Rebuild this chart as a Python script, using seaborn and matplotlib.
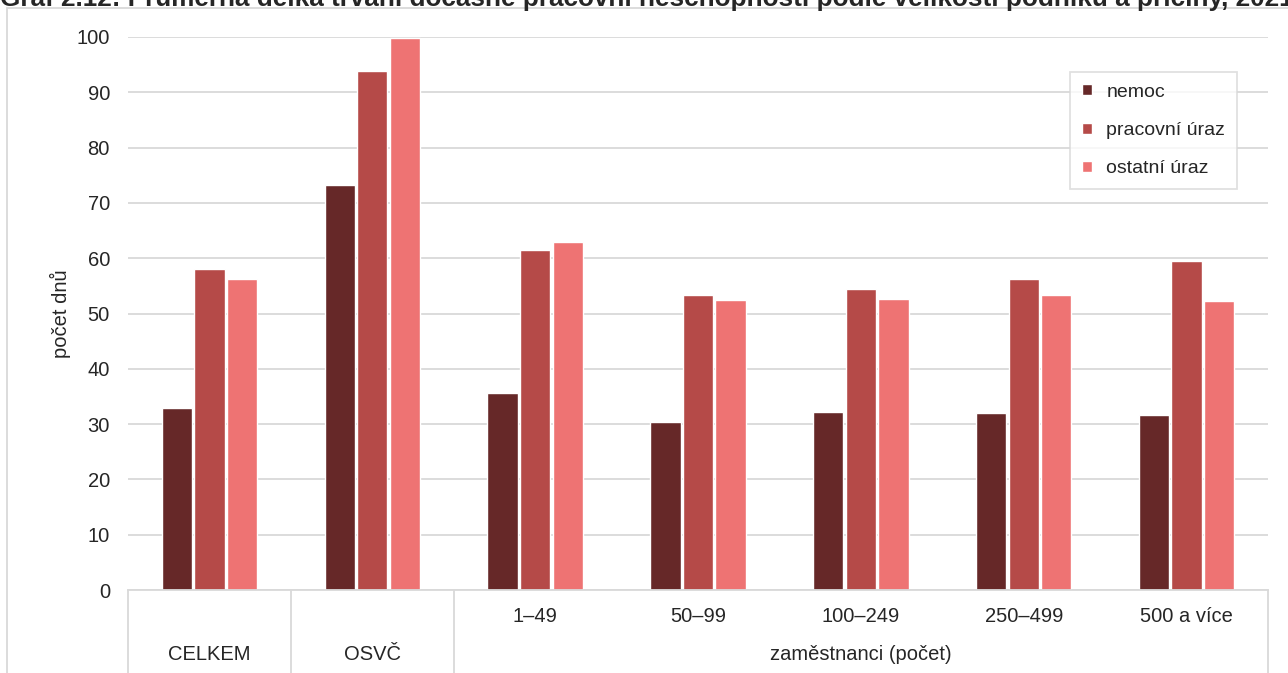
import pandas as pd
import matplotlib
matplotlib.use("Agg")
import matplotlib.pyplot as plt
from matplotlib.patches import Rectangle
import seaborn as sns

# data
categories = ["CELKEM", "OSVČ", "1–49", "50–99", "100–249", "250–499", "500 a více"]
nemoc = [32.9, 73.3, 35.6, 30.4, 32.2, 32.0, 31.6]
pracovni_uraz = [58.0, 93.9, 61.5, 53.3, 54.5, 56.2, 59.5]
ostatni_uraz = [56.2, 99.8, 62.9, 52.5, 52.6, 53.3, 52.2]
series_names = ["nemoc", "pracovní úraz", "ostatní úraz"]
tick_labels = ["", "", "1–49", "50–99", "100–249", "250–499", "500 a více"]
group_labels = ["CELKEM", "OSVČ", "zaměstnanci (počet)"]

colors = ["#662828", "#B54A48", "#EE7373"]
grid_col = "#D9D9D9"
fs = 14.5

rows = []
for name, vals in zip(series_names, [nemoc, pracovni_uraz, ostatni_uraz]):
    for c, v in zip(categories, vals):
        rows.append({"kategorie": c, "pricina": name, "dny": v})
df = pd.DataFrame(rows)

sns.set_style("white")
plt.rcParams["font.family"] = ["Liberation Sans", "DejaVu Sans"]

fig = plt.figure(figsize=(12.88, 6.73), dpi=100)
ax = fig.add_axes([128 / 1288, 1 - 590 / 673, 1140 / 1288, 553 / 673])

sns.barplot(data=df, x="kategorie", y="dny", hue="pricina", order=categories,
            hue_order=series_names, palette=colors, width=0.6, gap=0.07,
            saturation=1, ax=ax, errorbar=None)

ax.set_ylim(0, 100)
ax.set_xlim(-0.5, len(categories) - 0.5)
ax.set_yticks(range(0, 101, 10))
ax.yaxis.grid(True, color=grid_col, linewidth=1.3)
ax.set_axisbelow(True)
for s in ["top", "left", "right"]:
    ax.spines[s].set_visible(False)
ax.spines["bottom"].set_color(grid_col)
ax.spines["bottom"].set_linewidth(1.3)
ax.tick_params(axis="y", length=0, labelsize=fs, pad=13)
ax.tick_params(axis="x", length=0, labelsize=fs, pad=12)
ax.set_xticks(range(len(categories)))
ax.set_xticklabels(tick_labels)
ax.set_xlabel("")
ax.set_ylabel("počet dnů", fontsize=fs, labelpad=4)

# lower label row and separators
tr = ax.get_xaxis_transform()
low_y = -65 / 553
ax.text(0, low_y, group_labels[0], transform=tr, ha="center", va="center", fontsize=fs)
ax.text(1, low_y, group_labels[1], transform=tr, ha="center", va="center", fontsize=fs)
ax.text(4, low_y, group_labels[2], transform=tr, ha="center", va="center", fontsize=fs)
for xs in [-0.5, 0.5, 1.5, 6.5]:
    ax.plot([xs, xs], [0, -83 / 553], transform=tr, color=grid_col,
            linewidth=1.3, clip_on=False)

leg = ax.legend(loc="upper right", bbox_to_anchor=((1237 - 128) / 1140, (590 - 72) / 553),
                frameon=True, fontsize=14, labelspacing=1.1, handlelength=0.5,
                handleheight=0.5, handletextpad=0.75, borderpad=0.6,
                borderaxespad=0, fancybox=False)
leg.get_frame().set_edgecolor(grid_col)
leg.get_frame().set_linewidth(1.3)

# outer chart frame
fig.patches.append(Rectangle((7 / 1288, -0.01), 1.0, 1 - 8 / 673 + 0.01,
                             transform=fig.transFigure, fill=False,
                             edgecolor=grid_col, linewidth=1.3))

# title (cut at the top like the source)
fig.text(0.0, 1 - 6 / 673, "Graf 2.12: Průměrná délka trvání dočasné pracovní neschopnosti "
         "podle velikosti podniku a příčiny, 2021",
         fontsize=18.8, fontweight="bold", ha="left", va="baseline")

fig.savefig("out.png", dpi=100)
